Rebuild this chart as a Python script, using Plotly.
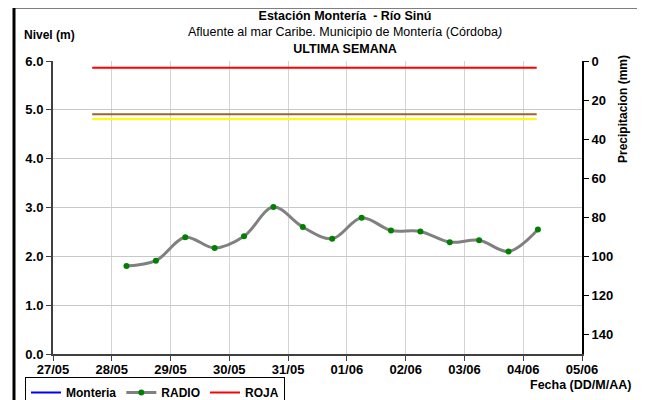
import plotly.graph_objects as go

# ---- data ----
fechas = ["2023-05-28 06:00", "2023-05-28 18:00", "2023-05-29 06:00", "2023-05-29 18:00",
          "2023-05-30 06:00", "2023-05-30 18:00", "2023-05-31 06:00", "2023-05-31 18:00",
          "2023-06-01 06:00", "2023-06-01 18:00", "2023-06-02 06:00", "2023-06-02 18:00",
          "2023-06-03 06:00", "2023-06-03 18:00", "2023-06-04 06:00"]
nivel_radio = [1.80, 1.91, 2.39, 2.17, 2.41, 3.01, 2.60, 2.36, 2.79, 2.53, 2.51, 2.29, 2.33, 2.10, 2.55]

umbral_x = ["2023-05-27 16:00", "2023-06-04 05:30"]
nivel_roja = [5.86, 5.86]
nivel_naranja = [4.91, 4.91]
nivel_amarilla = [4.81, 4.81]

x_range = ["2023-05-27", "2023-06-05"]
y_range = [0, 6]
precip_range = [150, 0]

FONT = "Arial, Liberation Sans, sans-serif"

fig = go.Figure()

fig.add_trace(go.Scatter(x=[None], y=[None], mode="lines", name="Monteria",
                         line=dict(color="#0000ff", width=2)))
fig.add_trace(go.Scatter(x=fechas, y=nivel_radio, mode="lines+markers", name="RADIO",
                         line=dict(color="#808080", width=3, shape="spline", smoothing=1.0),
                         marker=dict(color="#008000", size=6)))
fig.add_trace(go.Scatter(x=umbral_x, y=nivel_roja, mode="lines", name="ROJA",
                         line=dict(color="#ff0000", width=2)))
fig.add_trace(go.Scatter(x=umbral_x, y=nivel_naranja, mode="lines", showlegend=False,
                         line=dict(color="#996633", width=2)))
fig.add_trace(go.Scatter(x=umbral_x, y=nivel_amarilla, mode="lines", showlegend=False,
                         line=dict(color="#ffff00", width=2)))
# secondary axis holder (precipitation, no data)
fig.add_trace(go.Scatter(x=[None], y=[None], yaxis="y2", showlegend=False, mode="lines"))

TICKFONT = dict(family=FONT, size=13, color="black", weight="bold")

# page body has an 8px margin: figure is 8px smaller and everything is placed accordingly
fig.update_layout(
    width=637, height=392,
    margin=dict(l=45, r=63, t=53, b=46, autoexpand=False),
    paper_bgcolor="white", plot_bgcolor="white",
    font=dict(family=FONT, size=13, color="black"),
    xaxis=dict(type="date", range=x_range, tick0="2023-05-27", dtick=86400000,
               tickformat="%d/%m", showgrid=True, gridcolor="#d4d4d4", gridwidth=1,
               showline=True, linecolor="#404040", linewidth=2,
               ticks="outside", ticklen=5, tickcolor="#404040",
               ticklabelstandoff=-3,
               tickfont=TICKFONT, zeroline=False, automargin=False),
    yaxis=dict(range=y_range, dtick=1, tickformat=".1f", showgrid=True,
               gridcolor="#c8c8c8", gridwidth=1,
               showline=True, linecolor="#404040", linewidth=2,
               ticks="outside", ticklen=5, tickcolor="#404040",
               tickfont=TICKFONT, zeroline=False, automargin=False),
    yaxis2=dict(range=precip_range, dtick=20, overlaying="y", side="right",
                showgrid=False, showline=True, linecolor="black", linewidth=2,
                ticks="outside", ticklen=5, tickcolor="black",
                tickfont=TICKFONT, zeroline=False, automargin=False),
    legend=dict(orientation="h", x=(25 - 53) / 529, y=(354 - 377) / 293,
                xanchor="left", yanchor="top",
                bordercolor="black", borderwidth=1, bgcolor="white",
                font=dict(family=FONT, size=12, color="black", weight="bold"),
                itemwidth=30, tracegroupgap=0),
    showlegend=True,
)

titulo = ("<b>Estación Montería  - Río Sinú</b><br>"
          "Afluente al mar Caribe. Municipio de Montería (Córdoba<i>)</i><br>"
          "<b>ULTIMA SEMANA</b>")
fig.add_annotation(text=titulo, xref="paper", yref="paper",
                   x=(345 - 53) / 529, y=(354 - 33) / 293, xanchor="center", yanchor="middle",
                   align="center", showarrow=False,
                   font=dict(family=FONT, size=12.5, color="black"))

fig.add_annotation(text="<b>Nivel (m)</b>", xref="paper", yref="paper",
                   x=(22 - 53) / 529, y=(354 - 35) / 293, xanchor="left", yanchor="middle",
                   showarrow=False, font=dict(family=FONT, size=12, color="black"))
fig.add_annotation(text="<b>Precipitacion (mm)</b>", xref="paper", yref="paper",
                   x=(623 - 53) / 529, y=(354 - 109) / 293, xanchor="center", yanchor="middle",
                   textangle=-90, showarrow=False, font=dict(family=FONT, size=12, color="black"))
fig.add_annotation(text="<b>Fecha (DD/M/AA)</b>", xref="paper", yref="paper",
                   x=(633 - 53) / 529, y=(354 - 385) / 293, xanchor="right", yanchor="middle",
                   showarrow=False, font=dict(family=FONT, size=12.5, color="black"))

# outer frame
fig.add_shape(type="rect", xref="paper", yref="paper",
              x0=(14 - 53) / 529, x1=(643 - 53) / 529,
              y0=(354 - 405) / 293, y1=(354 - 7) / 293,
              line=dict(color="black", width=3), fillcolor="rgba(0,0,0,0)", layer="below")

fig.write_html("out.html")
